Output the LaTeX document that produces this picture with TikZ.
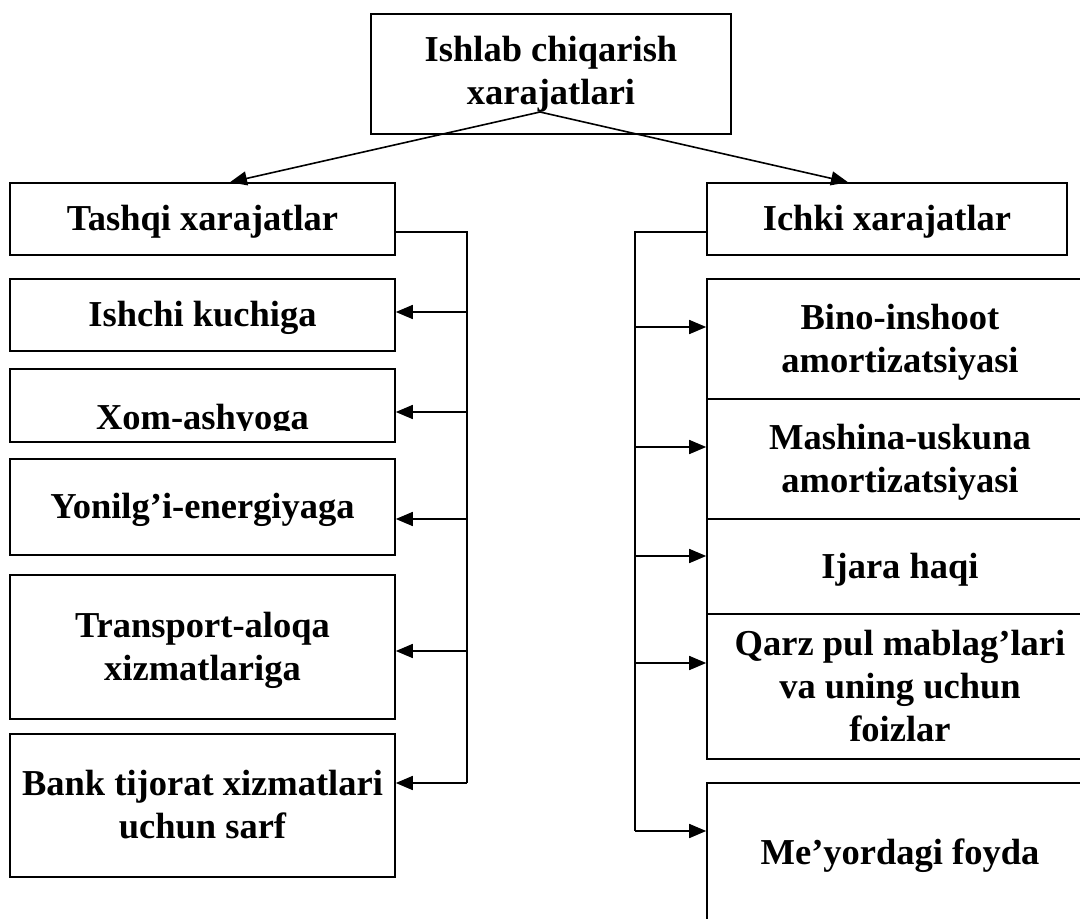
\documentclass[tikz,border=0pt]{standalone}
\usepackage{fontspec}
\setmainfont{Liberation Serif}
\usetikzlibrary{arrows.meta,calc}
\begin{document}
\begin{tikzpicture}[x=1pt,y=-1pt,
  txt/.style={font=\fontsize{36.5}{43}\selectfont\bfseries},
  box/.style={draw, line width=1.6pt, rectangle, inner sep=0pt, align=center, txt, text height=28pt, text depth=5pt},
  two/.style={text height=71pt},
  three/.style={text height=114pt},
  conn/.style={line width=1.6pt},
  arr/.style={line width=1.6pt, -{Triangle[length=17pt,width=14pt]}},
]
\useasboundingbox (0,0) rectangle (1080,919);
\clip (0,0) rectangle (1080,919);

% top
\node[box, text height=68pt, text depth=8pt, minimum width=360pt, minimum height=120pt] (top) at (551,74) {Ishlab chiqarish\\xarajatlari};

% left column
\node[box, minimum width=385pt, minimum height=72pt] (tashqi) at (202.5,219) {Tashqi xarajatlar};
\node[box, minimum width=385pt, minimum height=72pt] (ishchi) at (202.5,315) {Ishchi kuchiga};
\node[box, minimum width=385pt, minimum height=73pt] (xom) at (202.5,405.5) {};
\begin{scope}
  \clip (10,369) rectangle (395,430);
  \node[txt, inner sep=0pt, anchor=base] (xomtext) at (202.5,429) {Xom-ashyoga};
\end{scope}
\node[box, minimum width=385pt, minimum height=96pt] (yon) at (202.5,507) {Yonilg’i-energiyaga};
\node[box, two, minimum width=385pt, minimum height=144pt] (trans) at (202.5,647) {Transport-aloqa\\xizmatlariga};
\node[box, two, minimum width=385pt, minimum height=143pt] (bank) at (202.5,805.5) {Bank tijorat xizmatlari\\uchun sarf};

% right column
\node[box, minimum width=360pt, minimum height=72pt] (ichki) at (887,219) {Ichki xarajatlar};
\node[box, two, minimum width=386pt, minimum height=120pt] (bino) at (900,339) {Bino-inshoot\\amortizatsiyasi};
\node[box, two, minimum width=386pt, minimum height=120pt] (mash) at (900,459) {Mashina-uskuna\\amortizatsiyasi};
\node[box, minimum width=386pt, minimum height=95pt] (ijara) at (900,566.5) {Ijara haqi};
\node[box, three, minimum width=386pt, minimum height=145pt] (qarz) at (900,686.5) {Qarz pul mablag’lari\\va uning uchun\\foizlar};
\node[box, minimum width=386pt, minimum height=140pt] (meyor) at (900,853) {Me’yordagi foyda};

% top arrows
\coordinate (apex) at (540,112);
\draw[arr] (apex) -- ([xshift=27.5pt]tashqi.north);
\draw[arr] (apex) -- ([xshift=-39pt]ichki.north);

% left bus
\coordinate (lt) at (467,232);
\coordinate (l1) at (467,312);
\coordinate (l2) at (467,412);
\coordinate (l3) at (467,519);
\coordinate (l4) at (467,651);
\coordinate (lb) at (467,783);
\draw[conn] (tashqi.east |- lt) -- (lt) -- (lb);
\draw[arr] (l1) -- (l1 -| ishchi.east);
\draw[arr] (l2) -- (l2 -| xom.east);
\draw[arr] (l3) -- (l3 -| yon.east);
\draw[arr] (l4) -- (l4 -| trans.east);
\draw[arr] (lb) -- (lb -| bank.east);

% right bus
\coordinate (rt) at (635,232);
\coordinate (r1) at (635,327);
\coordinate (r2) at (635,447);
\coordinate (r3) at (635,556);
\coordinate (r4) at (635,663);
\coordinate (rb) at (635,831);
\draw[conn] (ichki.west |- rt) -- (rt) -- (rb);
\draw[arr] (r1) -- (r1 -| bino.west);
\draw[arr] (r2) -- (r2 -| mash.west);
\draw[arr] (r3) -- (r3 -| ijara.west);
\draw[arr] (r4) -- (r4 -| qarz.west);
\draw[arr] (rb) -- (rb -| meyor.west);
\end{tikzpicture}
\end{document}
